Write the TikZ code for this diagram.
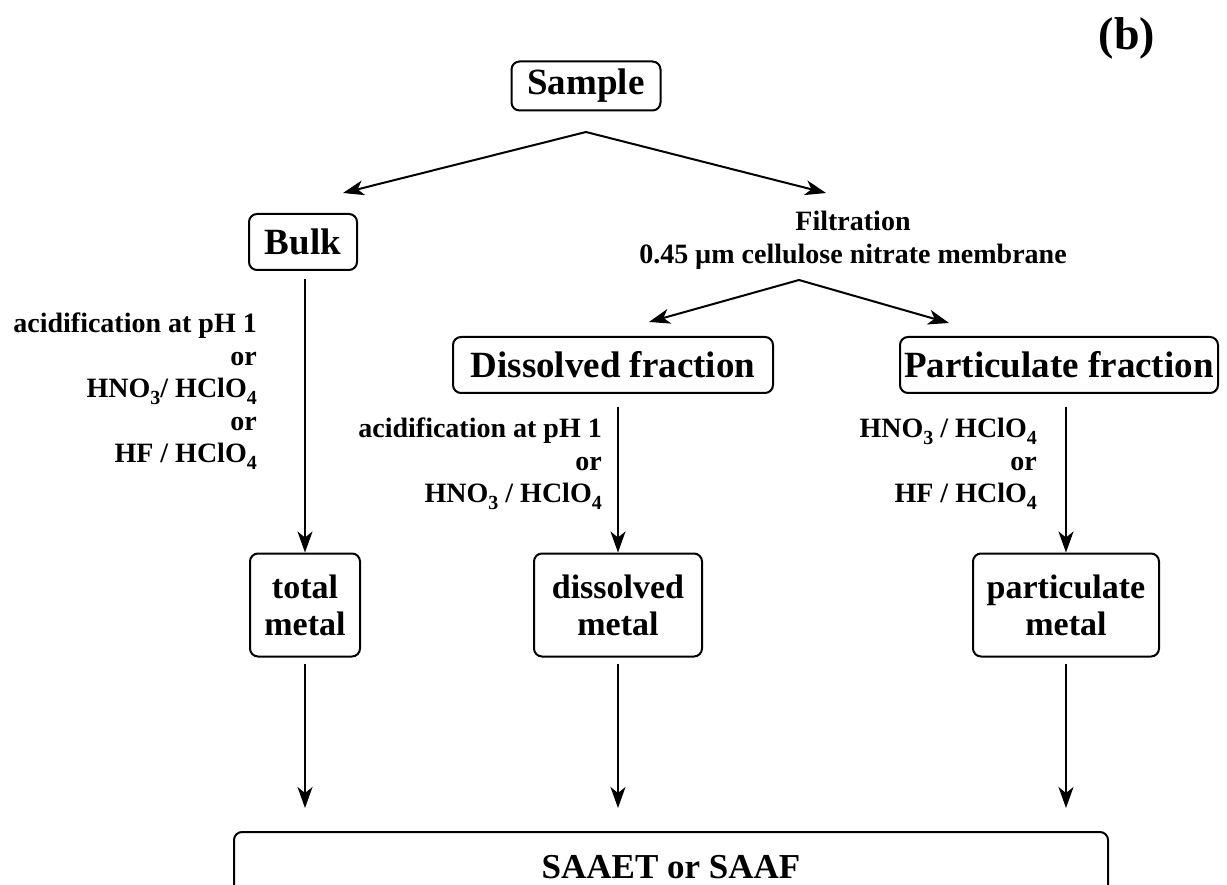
\documentclass[tikz,border=0pt]{standalone}
\usepackage{fontspec}
\setmainfont{Liberation Serif}
\usetikzlibrary{arrows.meta}
\newcommand{\chemsub}[1]{\raisebox{-6.5pt}{\fontsize{20}{20}\selectfont #1}}
\begin{document}
\begin{tikzpicture}[x=1pt,y=-1pt,
  box/.style={draw, line width=2pt, rounded corners=8pt, inner sep=0pt, align=center,
    font=\bfseries\fontsize{37}{40}\selectfont},
  smallbox/.style={box, font=\bfseries\fontsize{34}{37}\selectfont},
  lab/.style={inner sep=0pt, align=right, font=\bfseries\fontsize{28}{32.5}\selectfont},
  arr/.style={line width=2pt, -{Stealth[length=21pt,width=15pt,inset=6pt]}}]
\useasboundingbox (0,0) rectangle (1227,885);
\clip (0,0) rectangle (1227,885);

\node[font=\bfseries\fontsize{46}{50}\selectfont] (tag) at (1127,38) {(b)};

\node[box, minimum width=149, minimum height=49] (sample) at (586,86) {Sample};
\coordinate (apex1) at (586,132);
\coordinate (tipL) at (343,193);
\coordinate (tipR) at (826,193);
\draw[arr] (apex1) -- (tipL);
\draw[arr] (apex1) -- (tipR);

\node[box, minimum width=108, minimum height=56] (bulk) at (303,242) {Bulk};
\node[lab, align=center, font=\bfseries\fontsize{28}{33}\selectfont] (filt) at (853,240)
  {Filtration\\0.45 µm cellulose nitrate membrane};
\coordinate (apex2) at (799,280);
\coordinate (tipDL) at (649,322);
\coordinate (tipDR) at (949,323);
\draw[arr] (apex2) -- (tipDL);
\draw[arr] (apex2) -- (tipDR);

\node[box, minimum width=320, minimum height=56] (dfrac) at (613,365) {Dissolved fraction};
\node[box, minimum width=318, minimum height=56] (pfrac) at (1059,365) {Particulate fraction};

\node[smallbox, minimum width=110, minimum height=103] (tmetal) at (305,605) {total\\metal};
\node[smallbox, minimum width=168, minimum height=103] (dmetal) at (618,605) {dissolved\\metal};
\node[smallbox, minimum width=186, minimum height=103] (pmetal) at (1066,605) {particulate\\metal};

\node[box, minimum width=874, minimum height=70, anchor=north west,
  font=\bfseries\fontsize{35}{38}\selectfont] (saaet) at (233,831) {SAAET or SAAF};

\draw[arr] ([yshift=-8pt]bulk.south -| tmetal.north) -- (tmetal.north);
\draw[arr] ([yshift=-13pt]dfrac.south -| dmetal.north) -- (dmetal.north);
\draw[arr] ([yshift=-13pt]pfrac.south -| pmetal.north) -- (pmetal.north);

\coordinate (endT) at (305,808);
\coordinate (endD) at (618,808);
\coordinate (endP) at (1066,808);
\draw[arr] ([yshift=-6pt]tmetal.south) -- (endT);
\draw[arr] ([yshift=-6pt]dmetal.south) -- (endD);
\draw[arr] ([yshift=-6pt]pmetal.south) -- (endP);

\node[lab, anchor=north east] (lab1) at (257,313)
  {acidification at pH 1\\or\\HNO\chemsub{3}/ HClO\chemsub{4}\\or\\HF / HClO\chemsub{4}};
\node[lab, anchor=north east] (lab2) at (602,418)
  {acidification at pH 1\\or\\HNO\chemsub{3} / HClO\chemsub{4}};
\node[lab, anchor=north east] (lab3) at (1037,418)
  {HNO\chemsub{3} / HClO\chemsub{4}\\or\\HF / HClO\chemsub{4}};
\end{tikzpicture}
\end{document}
